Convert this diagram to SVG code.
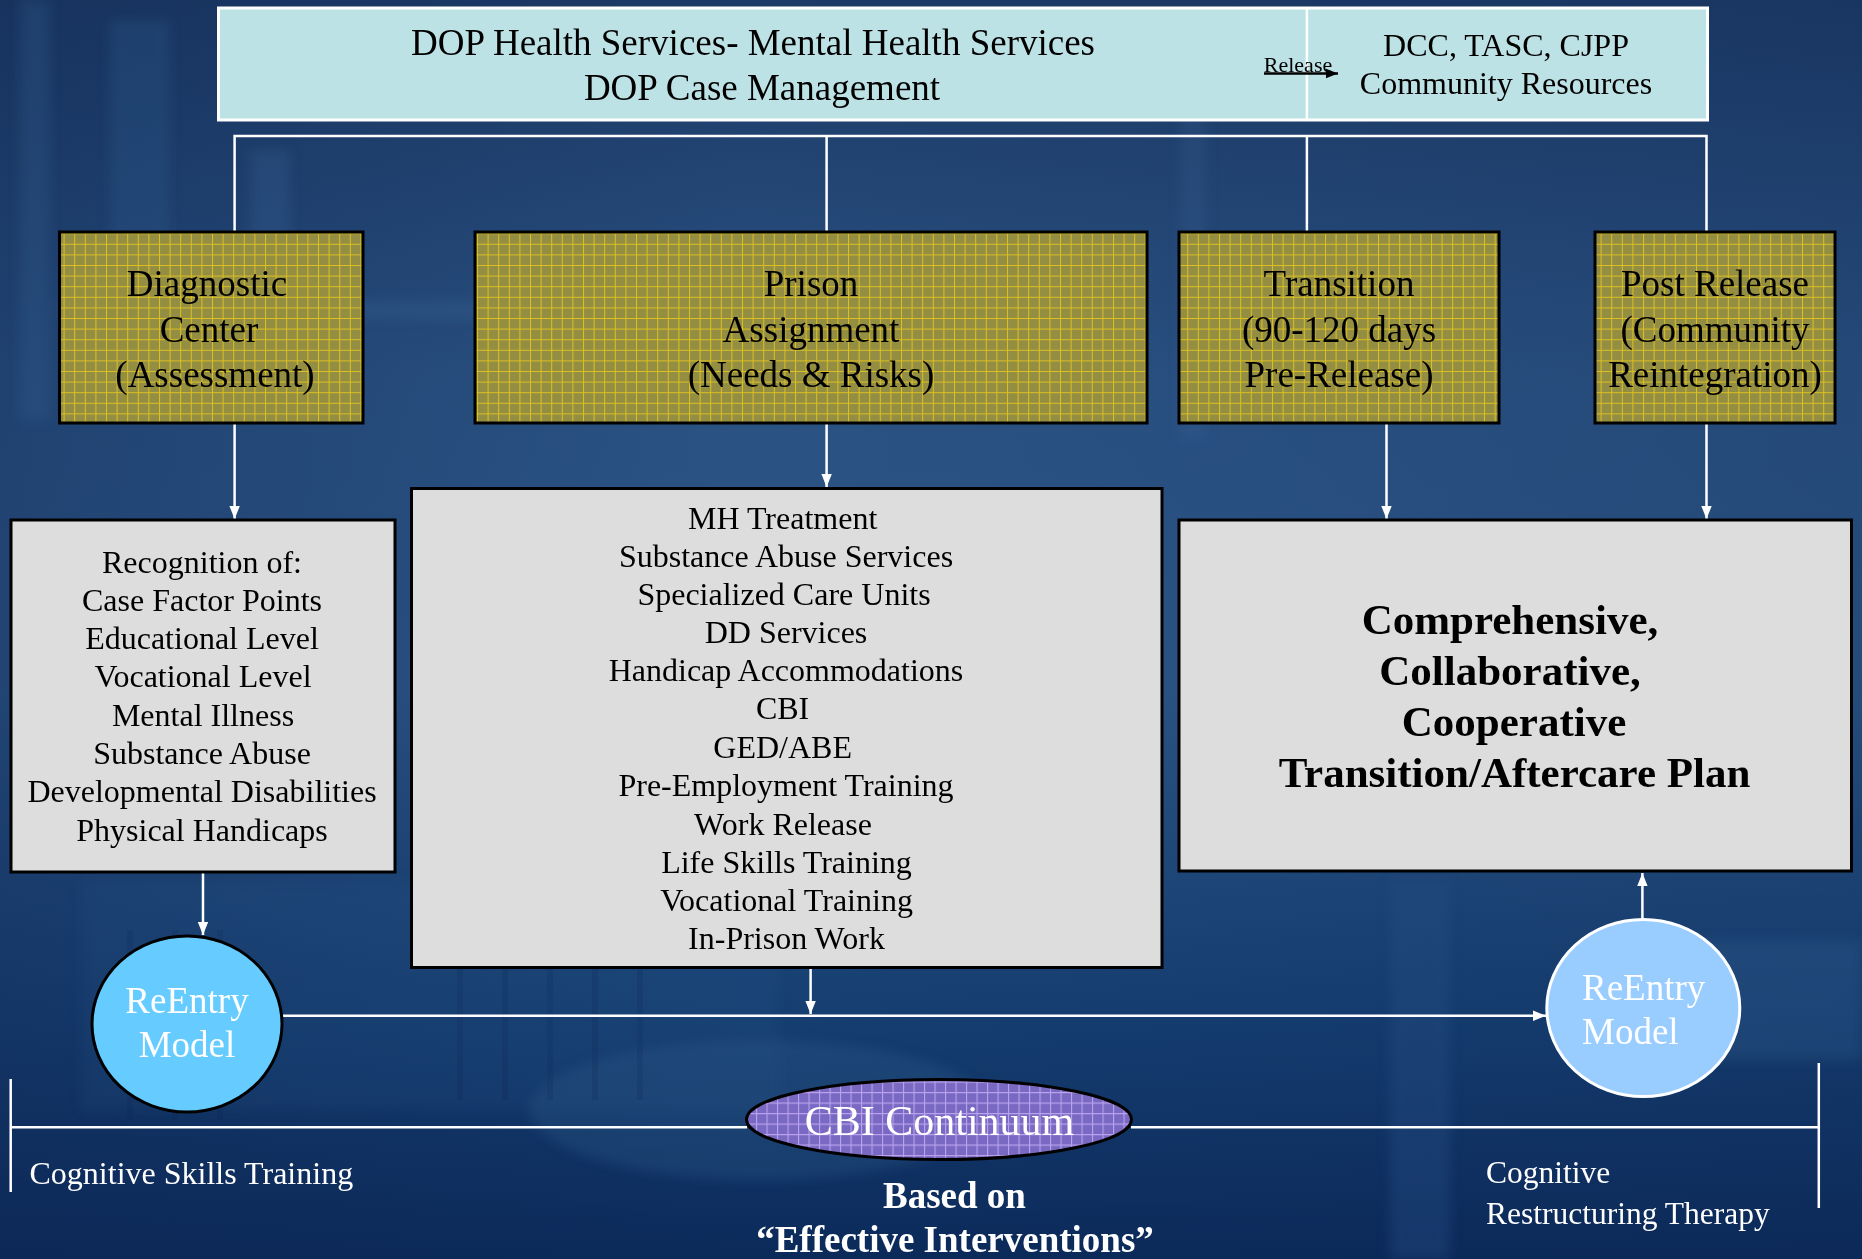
<svg xmlns="http://www.w3.org/2000/svg" width="1862" height="1259" viewBox="0 0 1862 1259">
<defs>
<style>
.serif{font-family:"Liberation Serif","Times New Roman",serif;text-anchor:middle}
.topbox{fill:#bde2e5;stroke:#ffffff;stroke-width:3}
.stage{fill:url(#gy);stroke:#000;stroke-width:3}
.list{fill:#dddddd;stroke:#000;stroke-width:3}
.conn{stroke:#fff;stroke-width:2.5;fill:none}
.arr{marker-end:url(#ah)}
.stageT{font-size:37px;fill:#000}
.listT{font-size:32px;fill:#000}
.boldT{font-size:43px;font-weight:bold;fill:#000}
.wT{fill:#fff}
</style>
<linearGradient id="bg" x1="0" y1="0" x2="0" y2="1">
<stop offset="0" stop-color="#1c3a66"/>
<stop offset="0.3" stop-color="#2a5283"/>
<stop offset="0.55" stop-color="#2b5586"/>
<stop offset="0.8" stop-color="#163f72"/>
<stop offset="1" stop-color="#0b2a5a"/>
</linearGradient>
<linearGradient id="bgx" x1="0" y1="0" x2="1" y2="0">
<stop offset="0" stop-color="#0e2550" stop-opacity="0.35"/>
<stop offset="0.4" stop-color="#0e2550" stop-opacity="0"/>
<stop offset="1" stop-color="#0e2550" stop-opacity="0.2"/>
</linearGradient>
<filter id="blur" x="-5%" y="-50%" width="110%" height="200%"><feGaussianBlur stdDeviation="2"/></filter>
<filter id="blur8" x="-10%" y="-10%" width="120%" height="120%"><feGaussianBlur stdDeviation="6"/></filter>
<pattern id="gy" width="10.6" height="10.6" patternUnits="userSpaceOnUse">
<rect width="10.6" height="10.6" fill="#948e42"/>
<path d="M0,0.5 H10.6 M0.5,0 V10.6" stroke="#dcc021" stroke-width="1"/>
</pattern>
<pattern id="gp" width="10.5" height="10.5" patternUnits="userSpaceOnUse">
<rect width="10.5" height="10.5" fill="#7a69c2"/>
<path d="M0,0.5 H10.5 M0.5,0 V10.5" stroke="#b9a2ee" stroke-width="1.2"/>
</pattern>
<marker id="ah" viewBox="0 0 10 10" refX="10" refY="5" markerWidth="13" markerHeight="13" markerUnits="userSpaceOnUse" orient="auto">
<path d="M0,1 L10,5 L0,9 z" fill="#fff"/>
</marker>
<marker id="ahk" viewBox="0 0 10 10" refX="10" refY="5" markerWidth="12" markerHeight="12" markerUnits="userSpaceOnUse" orient="auto">
<path d="M0,1 L10,5 L0,9 z" fill="#000"/>
</marker>
</defs>

<g id="background">
<rect width="1862" height="1259" fill="url(#bg)"/>
<rect width="1862" height="1259" fill="url(#bgx)"/>
<g filter="url(#blur8)" opacity="0.5">
<rect x="20" y="0" width="30" height="420" fill="#3a6596" opacity="0.5"/>
<rect x="110" y="20" width="60" height="380" fill="#2f5a8c" opacity="0.6"/>
<rect x="250" y="150" width="40" height="260" fill="#3d6a9c" opacity="0.5"/>
<rect x="60" y="300" width="420" height="20" fill="#4a78a8" opacity="0.35"/>
<rect x="1180" y="60" width="26" height="380" fill="#3d6a9a" opacity="0.4"/>
<rect x="1390" y="880" width="60" height="379" fill="#244e82" opacity="0.8"/>
<rect x="80" y="880" width="700" height="230" fill="#2d568a" opacity="0.35"/>
<rect x="1700" y="940" width="162" height="120" fill="#3a6a98" opacity="0.5"/>
<ellipse cx="760" cy="1110" rx="230" ry="70" fill="#3c6a9a" opacity="0.45"/>
</g>
<g opacity="0.12" stroke="#0a1f45" stroke-width="6">
<path d="M130,930 V1120 M175,930 V1120 M220,930 V1120 M460,920 V1100 M505,920 V1100 M550,920 V1100 M595,920 V1100 M640,920 V1100"/>
</g>
<line x1="32" y1="170" x2="1862" y2="170" stroke="#b03a60" stroke-width="20" opacity="0.25" filter="url(#blur)"/>
<line x1="32" y1="170" x2="1862" y2="170" stroke="#b3345c" stroke-width="7" opacity="0.9" filter="url(#blur)"/>
</g>

<g id="connectors">
<path class="conn" d="M234.6,232 V136 H1706.5 V232 M826.6,136 V232 M1306.9,136 V232"/>
<path class="conn arr" d="M234.6,424 V519"/>
<path class="conn arr" d="M826.6,424 V487"/>
<path class="conn arr" d="M1386.5,424 V519"/>
<path class="conn arr" d="M1706.5,424 V519"/>
<path class="conn arr" d="M203,873 V935"/>
<path class="conn arr" d="M810.6,968 V1014"/>
<path class="conn arr" d="M282,1015.7 H1546"/>
<path class="conn arr" d="M1642.4,919 V873"/>
<path class="conn" d="M10.7,1127.3 H747 M1131,1127.3 H1818.8 M10.7,1079 V1192 M1818.8,1063 V1208"/>
</g>

<g id="top-box">
<rect class="topbox" x="218.5" y="8" width="1489" height="112"/>
<line x1="1306.9" y1="8" x2="1306.9" y2="120" stroke="#fff" stroke-width="2.5"/>
<text class="serif" x="753" y="54.5" font-size="37">DOP Health Services- Mental Health Services</text>
<text class="serif" x="762" y="99.5" font-size="37">DOP Case Management</text>
<text class="serif" x="1298" y="71.5" font-size="22">Release</text>
<path d="M1264,73.5 H1338" stroke="#000" stroke-width="2.5" marker-end="url(#ahk)"/>
<text class="serif" x="1506" y="56" font-size="32">DCC, TASC, CJPP</text>
<text class="serif" x="1506" y="94" font-size="32">Community Resources</text>
</g>

<g id="diagnostic">
<rect class="stage" x="59.5" y="232" width="303.5" height="191"/>
<text class="serif stageT" x="207" y="296">Diagnostic</text>
<text class="serif stageT" x="209" y="341.5">Center</text>
<text class="serif stageT" x="215" y="386.5">(Assessment)</text>
</g>

<g id="prison">
<rect class="stage" x="475" y="232" width="672" height="191"/>
<text class="serif stageT" x="811" y="296">Prison</text>
<text class="serif stageT" x="811" y="341.5">Assignment</text>
<text class="serif stageT" x="811" y="386.5">(Needs &amp; Risks)</text>
</g>

<g id="transition">
<rect class="stage" x="1179" y="232" width="320" height="191"/>
<text class="serif stageT" x="1339" y="296">Transition</text>
<text class="serif stageT" x="1339" y="341.5">(90-120 days</text>
<text class="serif stageT" x="1339" y="386.5">Pre-Release)</text>
</g>

<g id="post-release">
<rect class="stage" x="1595" y="232" width="240" height="191"/>
<text class="serif stageT" x="1715" y="296">Post Release</text>
<text class="serif stageT" x="1715" y="341.5">(Community</text>
<text class="serif stageT" x="1715" y="386.5">Reintegration)</text>
</g>

<g id="recognition">
<rect class="list" x="11" y="520" width="384" height="352"/>
<text class="serif listT" x="202" y="572.5">Recognition of:</text>
<text class="serif listT" x="202" y="610.5">Case Factor Points</text>
<text class="serif listT" x="202" y="649">Educational Level</text>
<text class="serif listT" x="203" y="687">Vocational Level</text>
<text class="serif listT" x="203" y="725.5">Mental Illness</text>
<text class="serif listT" x="202" y="764">Substance Abuse</text>
<text class="serif listT" x="202" y="802">Developmental Disabilities</text>
<text class="serif listT" x="202" y="840.5">Physical Handicaps</text>
</g>

<g id="prison-services">
<rect class="list" x="411.5" y="488.5" width="750.5" height="479"/>
<text class="serif listT" x="782.6" y="528.5">MH Treatment</text>
<text class="serif listT" x="786" y="566.5">Substance Abuse Services</text>
<text class="serif listT" x="784" y="604.5">Specialized Care Units</text>
<text class="serif listT" x="786" y="642.5">DD Services</text>
<text class="serif listT" x="786" y="681">Handicap Accommodations</text>
<text class="serif listT" x="782.6" y="719">CBI</text>
<text class="serif listT" x="782.6" y="757.5">GED/ABE</text>
<text class="serif listT" x="786" y="795.5">Pre-Employment Training</text>
<text class="serif listT" x="783" y="834.5">Work Release</text>
<text class="serif listT" x="786.5" y="873">Life Skills Training</text>
<text class="serif listT" x="786.5" y="910.5">Vocational Training</text>
<text class="serif listT" x="786.5" y="948.5">In-Prison Work</text>
</g>

<g id="aftercare-plan">
<rect class="list" x="1179" y="520" width="672.5" height="351"/>
<text class="serif boldT" x="1510" y="633.5">Comprehensive,</text>
<text class="serif boldT" x="1510" y="684.5">Collaborative,</text>
<text class="serif boldT" x="1514" y="735.5">Cooperative</text>
<text class="serif boldT" x="1514.5" y="787">Transition/Aftercare Plan</text>
</g>

<g id="reentry-left">
<ellipse cx="187" cy="1024" rx="95" ry="88" fill="#66ccff" stroke="#000" stroke-width="3"/>
<text class="serif wT" x="187" y="1013" font-size="37">ReEntry</text>
<text class="serif wT" x="187" y="1056.5" font-size="37">Model</text>
</g>

<g id="reentry-right">
<ellipse cx="1643.3" cy="1008" rx="96.5" ry="88.5" fill="#99ccff" stroke="#fff" stroke-width="3"/>
<text class="wT" x="1582" y="999.5" font-size="37" font-family="Liberation Serif, Times New Roman, serif">ReEntry</text>
<text class="wT" x="1582" y="1044" font-size="37" font-family="Liberation Serif, Times New Roman, serif">Model</text>
</g>

<g id="cbi-continuum">
<ellipse cx="939" cy="1119.5" rx="192.5" ry="40" fill="url(#gp)" stroke="#000" stroke-width="3"/>
<text class="serif wT" x="939.5" y="1135" font-size="42">CBI Continuum</text>
</g>

<g id="labels">
<text class="wT" x="29.5" y="1183.5" font-size="32" font-family="Liberation Serif, Times New Roman, serif">Cognitive Skills Training</text>
<text class="wT" x="1486" y="1183" font-size="31.5" font-family="Liberation Serif, Times New Roman, serif">Cognitive</text>
<text class="wT" x="1486" y="1223.5" font-size="31.5" font-family="Liberation Serif, Times New Roman, serif">Restructuring Therapy</text>
<text class="serif wT" x="954.5" y="1208" font-size="37" font-weight="bold">Based on</text>
<text class="serif wT" x="955" y="1252" font-size="37" font-weight="bold">“Effective Interventions”</text>
</g>
</svg>
